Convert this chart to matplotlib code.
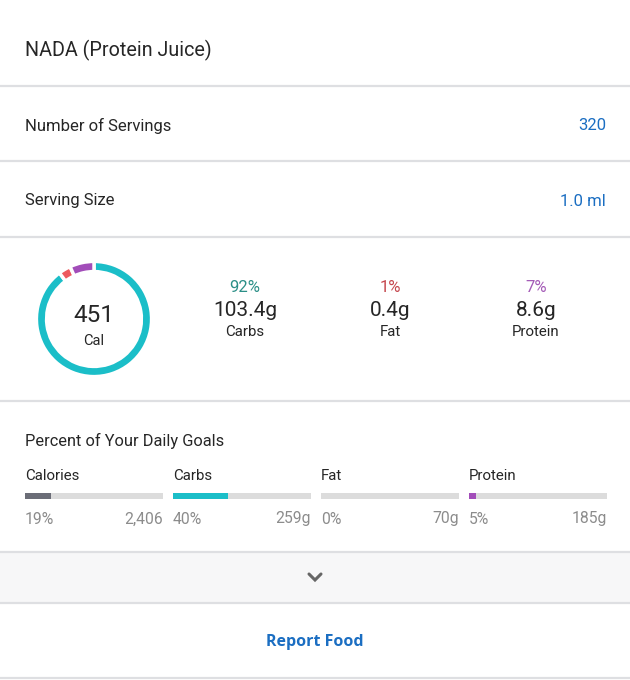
import matplotlib
matplotlib.use("Agg")
from matplotlib import pyplot as plt
import numpy as np

plt.rcParams["font.family"] = ["Roboto", "DejaVu Sans"]

# food info
food_name = "NADA (Protein Juice)"
info_labels = ["Number of Servings", "Serving Size"]
info_values = ["320", "1.0 ml"]

# macro breakdown
calories = 451
macro_names = ["Carbs", "Fat", "Protein"]
macro_pct = [92, 1, 7]
macro_grams = [103.4, 0.4, 8.6]

# daily goals
goal_names = ["Calories", "Carbs", "Fat", "Protein"]
goal_pct = [19, 40, 0, 5]
goal_totals = ["2,406", "259g", "70g", "185g"]

TEAL = "#1bbec8"
RED = "#ee5a5f"
PURPLE = "#a24db9"
BLUE = "#1b6ec2"
DARK = "#262626"
GREY_TXT = "#8c8c8c"
LINE = "#dedfe2"
pct_colors = ["#2b8f87", "#c5484f", "#a45bb7"]
ring_colors = [TEAL, RED, PURPLE]
goal_colors = ["#6b6d77", TEAL, "#cccccc", PURPLE]

W, H = 630, 680
fig = plt.figure(figsize=(W / 100, H / 100), dpi=100)
ax = fig.add_axes([0, 0, 1, 1])
ax.set_xlim(0, W)
ax.set_ylim(H, 0)
ax.axis("off")

def hline(y):
    ax.plot([0, W], [y, y], color=LINE, lw=1.6, solid_capstyle="butt")

# header
ax.text(25, 50, food_name, fontsize=14.2, color=DARK, va="center")
hline(86)

# info rows
for i, (lab, val) in enumerate(zip(info_labels, info_values)):
    y = 126 + i * 75
    ax.text(25, y, lab, fontsize=12, color=DARK, va="center")
    ax.text(606, y, val, fontsize=12, color=BLUE, va="center", ha="right")
    hline(161 + i * 76)

# donut
dax = fig.add_axes([(94 - 60) / W, 1 - (319 + 60) / H, 120 / W, 120 / H])
shares = np.maximum(np.array(macro_pct, dtype=float), 3.5)
dax.pie(shares, colors=ring_colors, startangle=90, counterclock=False,
        radius=0.96, wedgeprops=dict(width=0.17, edgecolor="white", linewidth=2.5))
dax.set_xlim(-1, 1)
dax.set_ylim(-1, 1)
dax.set_aspect("equal")
dax.axis("off")
ax.text(94, 315, str(calories), fontsize=17.5, color=DARK, ha="center", va="center")
ax.text(94, 341, "Cal", fontsize=10.5, color=DARK, ha="center", va="center")

macro_x = [245, 390, 536]
for x, name, p, g, c in zip(macro_x, macro_names, macro_pct, macro_grams, pct_colors):
    ax.text(x, 287, "{0}%".format(p), fontsize=12, color=c, ha="center", va="center")
    ax.text(x, 310, "{0}g".format(g), fontsize=15, color=DARK, ha="center", va="center")
    ax.text(x, 332, name, fontsize=10.8, color=DARK, ha="center", va="center")
hline(401)

# daily goals
ax.text(25, 441, "Percent of Your Daily Goals", fontsize=11.8, color=DARK, va="center")
bar_w = 138
for i, (name, p, tot, c) in enumerate(zip(goal_names, goal_pct, goal_totals, goal_colors)):
    x0 = 25 + i * 148
    ax.text(x0, 476, name, fontsize=10.8, color=DARK, va="center")
    ax.barh(496, bar_w, left=x0, height=6, color="#dcdcdc")
    ax.barh(496, bar_w * p / 100.0, left=x0, height=6, color=c)
    ax.text(x0, 519, "{0}%".format(p), fontsize=11.3, color=GREY_TXT, va="center")
    ax.text(x0 + bar_w, 519, tot, fontsize=11.3, color=GREY_TXT, va="center", ha="right")

# expand band
ax.fill_between([0, W], 552, 603, color="#f7f7f8", lw=0)
hline(552)
hline(603)
ax.plot([309, 315, 321], [574, 580, 574], color="#666666", lw=2.2,
        solid_capstyle="round", solid_joinstyle="miter")

ax.text(315, 642, "Report Food", fontsize=11.5, color=BLUE, fontweight="bold",
        ha="center", va="center", family=["Open Sans", "DejaVu Sans"])
hline(678)

fig.savefig("out.png", dpi=100, facecolor="white")
